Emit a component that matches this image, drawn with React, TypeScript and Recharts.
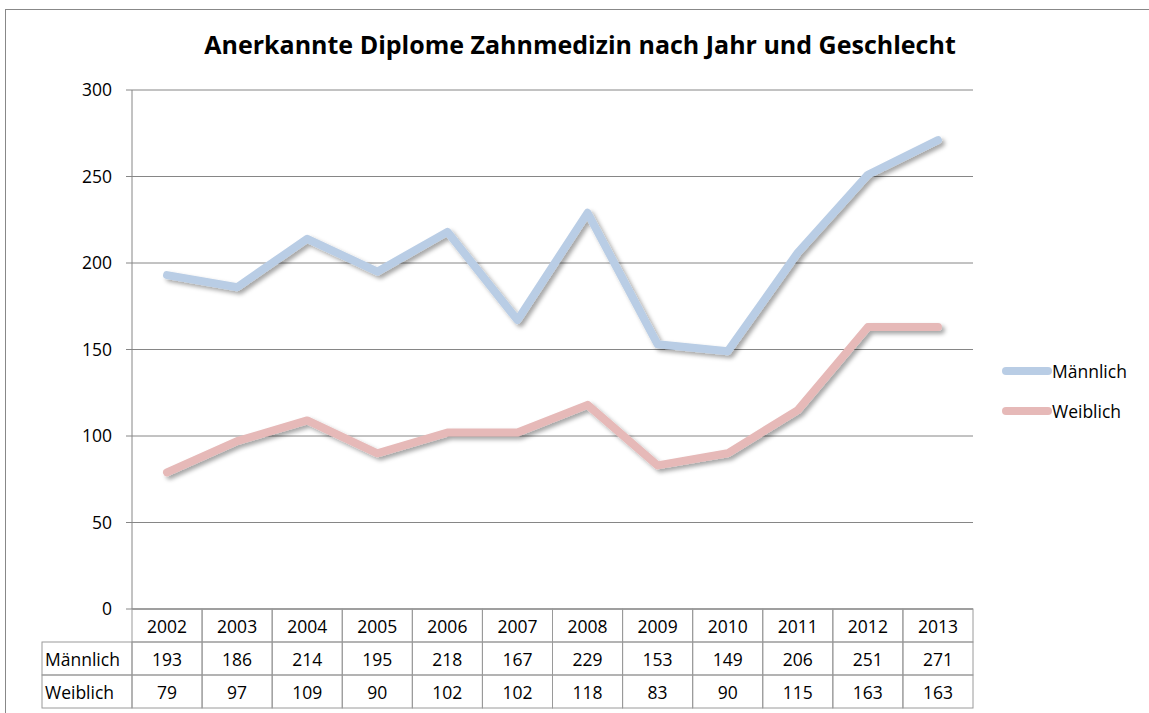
import React from 'react';
import { LineChart, Line, XAxis, YAxis, CartesianGrid } from 'recharts';

const years = ['2002', '2003', '2004', '2005', '2006', '2007', '2008', '2009', '2010', '2011', '2012', '2013'];
const maennlich = [193, 186, 214, 195, 218, 167, 229, 153, 149, 206, 251, 271];
const weiblich = [79, 97, 109, 90, 102, 102, 118, 83, 90, 115, 163, 163];
const yTicks = [0, 50, 100, 150, 200, 250, 300];

const series = [
  { key: 'maennlich', name: 'Männlich', color: '#b9cde5', values: maennlich },
  { key: 'weiblich', name: 'Weiblich', color: '#e6b9b8', values: weiblich },
];

const data = years.map((year, i) => ({
  year,
  maennlich: maennlich[i],
  weiblich: weiblich[i],
}));

const FONT = '"Open Sans", "Noto Sans", sans-serif';
const FS = 17.5;
const GRID = '#868686';
const TABLE = '#9a9a9a';

// plot box (px)
const PLOT_LEFT = 132;
const PLOT_RIGHT = 973;
const PLOT_TOP = 90;
const PLOT_BOTTOM = 609;
const ROW_H = 33;
const HEADER_LEFT = 42;
const cellW = (PLOT_RIGHT - PLOT_LEFT) / years.length;

// draws one column of the data table under the axis
const TableTick = (props: any) => {
  const { x, y, payload } = props;
  const i = payload.index;
  const left = x - cellW / 2;
  const rows = [years[i], String(maennlich[i]), String(weiblich[i])];
  return (
    <g>
      {rows.map((txt, r) => (
        <g key={r}>
          <rect x={left} y={y + r * ROW_H} width={cellW} height={ROW_H} fill="none" stroke={TABLE} strokeWidth={1} />
          <text x={x} y={y + r * ROW_H + 24} textAnchor="middle" fontSize={FS} fill="#000" fontFamily={FONT}>
            {txt}
          </text>
        </g>
      ))}
      {i === 0 &&
        series.map((s, r) => (
          <g key={s.key}>
            <rect x={HEADER_LEFT} y={y + (r + 1) * ROW_H} width={left - HEADER_LEFT} height={ROW_H} fill="none" stroke={TABLE} strokeWidth={1} />
            <text x={HEADER_LEFT + 3} y={y + (r + 1) * ROW_H + 24} fontSize={FS} fill="#000" fontFamily={FONT}>
              {s.name}
            </text>
          </g>
        ))}
    </g>
  );
};

export default function App() {
  return (
    <div style={{ position: 'absolute', left: 0, top: 0, width: 1149, height: 713, background: '#fff', overflow: 'hidden', fontFamily: FONT }}>
      <svg width={0} height={0} style={{ position: 'absolute' }}>
        <defs>
          <filter id="lineShadow" x="-10%" y="-10%" width="120%" height="130%">
            <feDropShadow dx={3} dy={3} stdDeviation={2} floodColor="#000" floodOpacity={0.35} />
          </filter>
        </defs>
      </svg>
      <div style={{ position: 'absolute', left: 5, top: 9, right: -2, bottom: -2, borderLeft: '1px solid #888', borderTop: '1px solid #888' }} />
      <div style={{ position: 'absolute', left: 0, width: 1160, top: 27, textAlign: 'center', fontSize: 25, fontWeight: 700, color: '#000' }}>
        Anerkannte Diplome Zahnmedizin nach Jahr und Geschlecht
      </div>
      <div style={{ position: 'absolute', left: 0, top: 0 }}>
        <LineChart
          width={1149}
          height={713}
          data={data}
          margin={{ top: PLOT_TOP, right: 1149 - PLOT_RIGHT, bottom: 0, left: PLOT_LEFT - 60 }}
        >
          <CartesianGrid vertical={false} stroke={GRID} strokeWidth={1} />
          <XAxis
            dataKey="year"
            scale="band"
            height={713 - PLOT_BOTTOM}
            axisLine={{ stroke: GRID }}
            tickLine={false}
            tickSize={0}
            tickMargin={0}
            interval={0}
            tick={<TableTick />}
          />
          <YAxis
            width={60}
            domain={[0, 300]}
            ticks={yTicks}
            axisLine={{ stroke: GRID }}
            tickLine={{ stroke: GRID }}
            tickSize={6}
            tickMargin={14}
            tick={{ fontSize: FS, fill: '#000', fontFamily: FONT }}
          />
          {series.map((s) => (
            <Line
              key={s.key}
              dataKey={s.key}
              name={s.name}
              stroke={s.color}
              strokeWidth={8}
              strokeLinecap="round"
              strokeLinejoin="round"
              dot={false}
              activeDot={false}
              filter="url(#lineShadow)"
              isAnimationActive={false}
            />
          ))}
        </LineChart>
      </div>
      {series.map((s, i) => (
        <div key={s.key} style={{ position: 'absolute', left: 1002, top: 359 + i * 40, display: 'flex', alignItems: 'center', fontSize: FS, color: '#000' }}>
          <span style={{ display: 'inline-block', width: 50, height: 8, borderRadius: 4, background: s.color }} />
          <span>{s.name}</span>
        </div>
      ))}
    </div>
  );
}
